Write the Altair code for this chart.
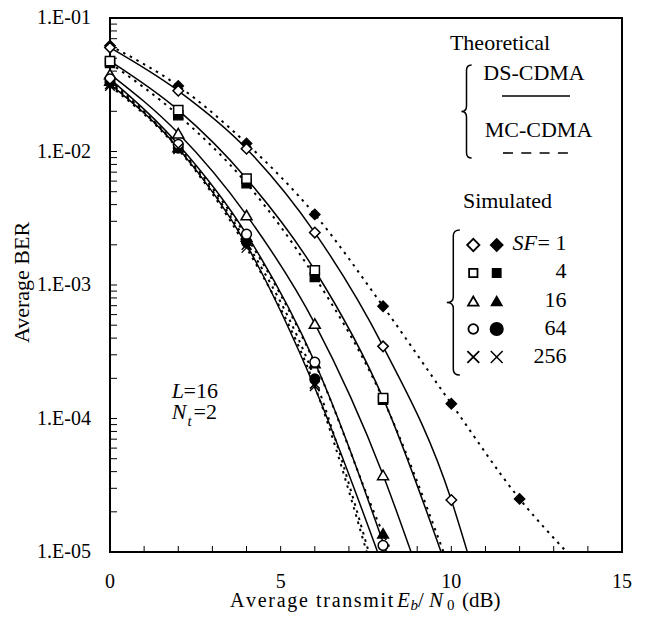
import altair as alt
import pandas as pd

SERIF = "Liberation Serif"
W, H = 512, 534

# ------------------------------------------------------------------ data
SF_LABELS = ["1", "4", "16", "64", "256"]

# simulated DS-CDMA (open markers)
ds_x_sf1 = [0, 2, 4, 6, 8, 10]
ds_y_sf1 = [0.060, 0.0285, 0.0105, 0.00247, 3.47e-4, 2.45e-5]
ds_x_sf4 = [0, 2, 4, 6, 8]
ds_y_sf4 = [0.0475, 0.0204, 0.00626, 0.00129, 1.42e-4]
ds_x_sf16 = [0, 2, 4, 6, 8]
ds_y_sf16 = [0.038, 0.0137, 0.00334, 5.14e-4, 3.78e-5]
ds_x_sf64 = [0, 2, 4, 6, 8]
ds_y_sf64 = [0.035, 0.0113, 0.0024, 2.64e-4, 1.12e-5]
ds_x_sf256 = [0, 2, 4, 6]
ds_y_sf256 = [0.032, 0.0106, 0.0020, 1.82e-4]

# simulated MC-CDMA (filled markers)
mc_x_sf1 = [0, 2, 4, 6, 8, 10, 12]
mc_y_sf1 = [0.062, 0.0310, 0.0115, 0.00338, 6.93e-4, 1.29e-4, 2.5e-5]
mc_x_sf4 = [0, 2, 4, 6, 8]
mc_y_sf4 = [0.046, 0.0187, 0.00578, 0.00115, 1.38e-4]
mc_x_sf16 = [0, 2, 4, 6, 8]
mc_y_sf16 = [0.034, 0.0108, 0.0023, 2.6e-4, 1.38e-5]
mc_x_sf64 = [0, 2, 4, 6]
mc_y_sf64 = [0.033, 0.0106, 0.00209, 1.98e-4]
mc_x_sf256 = [0, 2, 4, 6]
mc_y_sf256 = [0.031, 0.0104, 0.0019, 1.75e-4]

# theoretical DS-CDMA (solid)
th_ds_x_sf1 = [0, 2, 4, 6, 8, 10, 10.47]
th_ds_y_sf1 = [0.060, 0.0285, 0.0105, 0.00247, 3.47e-4, 2.45e-5, 1e-5]
th_ds_x_sf4 = [0, 2, 4, 6, 8, 9.70]
th_ds_y_sf4 = [0.0475, 0.0204, 0.00626, 0.00129, 1.42e-4, 1e-5]
th_ds_x_sf16 = [0, 2, 4, 6, 8, 8.82]
th_ds_y_sf16 = [0.038, 0.0137, 0.00334, 5.14e-4, 3.78e-5, 1e-5]
th_ds_x_sf64 = [0, 2, 4, 6, 8.10]
th_ds_y_sf64 = [0.035, 0.0113, 0.0024, 2.64e-4, 1e-5]
th_ds_x_sf256 = [0, 2, 4, 6, 7.84]
th_ds_y_sf256 = [0.032, 0.0106, 0.0020, 1.70e-4, 1e-5]

# theoretical MC-CDMA (dashed)
th_mc_x_sf1 = [0, 2, 4, 6, 8, 10, 12, 13.38]
th_mc_y_sf1 = [0.062, 0.0310, 0.0115, 0.00338, 6.93e-4, 1.29e-4, 2.5e-5, 1e-5]
th_mc_x_sf4 = [0, 2, 4, 6, 8, 9.77]
th_mc_y_sf4 = [0.046, 0.0187, 0.00578, 0.00115, 1.40e-4, 1e-5]
th_mc_x_sf16 = [0, 2, 4, 6, 8, 8.25]
th_mc_y_sf16 = [0.034, 0.0108, 0.0023, 2.6e-4, 1.38e-5, 1e-5]
th_mc_x_sf64 = [0, 2, 4, 6, 7.58]
th_mc_y_sf64 = [0.033, 0.0106, 0.00209, 1.98e-4, 1e-5]
th_mc_x_sf256 = [0, 2, 4, 6, 7.52]
th_mc_y_sf256 = [0.031, 0.0104, 0.0019, 1.75e-4, 1e-5]

x_tick_values = [0, 5, 10, 15]
x_tick_labels = ["0", "5", "10", "15"]
y_tick_values = [1e-5, 1e-4, 1e-3, 1e-2, 1e-1]
y_tick_labels = ["1.E-05", "1.E-04", "1.E-03", "1.E-02", "1.E-01"]

# ------------------------------------------------------------------ helpers
def frame(xs, ys, sf):
    return pd.DataFrame({"snr": xs, "ber": ys, "sf": sf})

ds_sim = [frame(ds_x_sf1, ds_y_sf1, "1"), frame(ds_x_sf4, ds_y_sf4, "4"),
          frame(ds_x_sf16, ds_y_sf16, "16"), frame(ds_x_sf64, ds_y_sf64, "64"),
          frame(ds_x_sf256, ds_y_sf256, "256")]
mc_sim = [frame(mc_x_sf1, mc_y_sf1, "1"), frame(mc_x_sf4, mc_y_sf4, "4"),
          frame(mc_x_sf16, mc_y_sf16, "16"), frame(mc_x_sf64, mc_y_sf64, "64"),
          frame(mc_x_sf256, mc_y_sf256, "256")]
th_ds = pd.concat([frame(th_ds_x_sf1, th_ds_y_sf1, "1"), frame(th_ds_x_sf4, th_ds_y_sf4, "4"),
                   frame(th_ds_x_sf16, th_ds_y_sf16, "16"), frame(th_ds_x_sf64, th_ds_y_sf64, "64"),
                   frame(th_ds_x_sf256, th_ds_y_sf256, "256")])
th_mc = pd.concat([frame(th_mc_x_sf1, th_mc_y_sf1, "1"), frame(th_mc_x_sf4, th_mc_y_sf4, "4"),
                   frame(th_mc_x_sf16, th_mc_y_sf16, "16"), frame(th_mc_x_sf64, th_mc_y_sf64, "64"),
                   frame(th_mc_x_sf256, th_mc_y_sf256, "256")])

X_PATH = "M-1,-1L1,1M1,-1L-1,1"
SHAPES = ["diamond", "square", "triangle-up", "circle", X_PATH]
SIZES = [110, 85, 121, 95, 95]
LEG_OPEN_SIZES = [150, 70, 110, 95, 140]
LEG_FILL_SIZES = [150, 70, 110, 160, 140]

xscale = alt.Scale(domain=[0, 15], nice=False, zero=False)
yscale = alt.Scale(type="log", domain=[1e-5, 1e-1], nice=False)

one = pd.DataFrame({"k": [0]})


def X(field="snr"):
    return alt.X(f"{field}:Q", scale=xscale, axis=None)


def Y(field="ber"):
    return alt.Y(f"{field}:Q", scale=yscale, axis=None)


def txt(s, x, y, size=22, style="normal", align="left", baseline="alphabetic", angle=0):
    return alt.Chart(one).mark_text(
        text=s, font=SERIF, fontSize=size, fontStyle=style, align=align,
        baseline=baseline, angle=angle, color="black"
    ).encode(x=alt.value(x), y=alt.value(y))


# ------------------------------------------------------------------ layers
layers = []

layers.append(
    alt.Chart(th_ds).mark_line(interpolate="monotone", color="black", strokeWidth=1.5)
    .encode(x=X(), y=Y(), detail="sf:N")
)
layers.append(
    alt.Chart(th_mc).mark_line(interpolate="monotone", color="black", strokeWidth=2,
                               strokeDash=[2.5, 5])
    .encode(x=X(), y=Y(), detail="sf:N")
)

# inward ticks
y_minor = [m * 10.0 ** e for e in range(-5, -1) for m in range(1, 10)] + [0.1]
layers.append(
    alt.Chart(pd.DataFrame({"v": y_minor})).mark_rule(color="black", strokeWidth=1)
    .encode(y=Y("v"), x=alt.value(0), x2=alt.value(7))
)
layers.append(
    alt.Chart(pd.DataFrame({"v": list(range(1, 15))})).mark_rule(color="black", strokeWidth=1)
    .encode(x=X("v"), y=alt.value(H), y2=alt.value(H - 6))
)

# tick labels
layers.append(
    alt.Chart(pd.DataFrame({"v": y_tick_values, "lab": y_tick_labels}))
    .mark_text(font=SERIF, fontSize=20, align="right", baseline="middle", color="black")
    .encode(y=Y("v"), x=alt.value(-19), text="lab:N")
)
layers.append(
    alt.Chart(pd.DataFrame({"v": x_tick_values, "lab": x_tick_labels}))
    .mark_text(font=SERIF, fontSize=20, align="center", baseline="alphabetic", color="black")
    .encode(x=X("v"), y=alt.value(H + 36), text="lab:N")
)

# filled (MC-CDMA) then open (DS-CDMA) markers
for i, df in enumerate(mc_sim):
    layers.append(
        alt.Chart(df).mark_point(shape=SHAPES[i], size=SIZES[i], filled=True, fill="black",
                                 stroke="black", strokeWidth=1.3, opacity=1)
        .encode(x=X(), y=Y())
    )
for i, df in enumerate(ds_sim):
    layers.append(
        alt.Chart(df).mark_point(shape=SHAPES[i], size=SIZES[i], filled=True, fill="white",
                                 stroke="black", strokeWidth=1.5, opacity=1)
        .encode(x=X(), y=Y())
    )

# ------------------------------------------------------------------ legend (drawn)
BRACE1 = "M0.11,-1 Q0,-1 0,-0.88 L0,-0.12 Q0,0 -0.11,0 Q0,0 0,0.12 L0,0.88 Q0,1 0.11,1"
BRACE2 = "M0.09,-1 Q0,-1 0,-0.92 L0,-0.08 Q0,0 -0.09,0 Q0,0 0,0.08 L0,0.92 Q0,1 0.09,1"

layers.append(txt("Theoretical", 390, 32, align="center"))
layers.append(
    alt.Chart(one).mark_point(shape=BRACE1, size=93 ** 2, filled=False, color="black",
                              strokeWidth=1.5, opacity=1)
    .encode(x=alt.value(356.5), y=alt.value(93.5))
)
layers.append(txt("DS-CDMA", 424, 62, align="center"))
layers.append(
    alt.Chart(one).mark_rule(color="black", strokeWidth=1.6)
    .encode(x=alt.value(392), x2=alt.value(460), y=alt.value(78))
)
layers.append(txt("MC-CDMA", 428.5, 118.7, align="center"))
layers.append(
    alt.Chart(one).mark_rule(color="black", strokeWidth=1.6, strokeDash=[10, 8.3])
    .encode(x=alt.value(393), x2=alt.value(462), y=alt.value(135))
)
layers.append(txt("Simulated", 397.5, 190, align="center"))
layers.append(
    alt.Chart(one).mark_point(shape=BRACE2, size=145 ** 2, filled=False, color="black",
                              strokeWidth=1.5, opacity=1)
    .encode(x=alt.value(343.3), y=alt.value(284.5))
)
for i, lab in enumerate(SF_LABELS):
    yc = 227 + 28.0 * i
    layers.append(
        alt.Chart(one).mark_point(shape=SHAPES[i], size=LEG_OPEN_SIZES[i], filled=True,
                                  fill="white", stroke="black", strokeWidth=1.8, opacity=1)
        .encode(x=alt.value(363.3), y=alt.value(yc))
    )
    layers.append(
        alt.Chart(one).mark_point(shape=SHAPES[i], size=LEG_FILL_SIZES[i], filled=True,
                                  fill="black", stroke="black", strokeWidth=1.5, opacity=1)
        .encode(x=alt.value(386.7), y=alt.value(yc))
    )
    layers.append(txt(("= " if i == 0 else "") + lab, 456.5, 232 + 28.3 * i, align="right"))
layers.append(txt("SF", 427, 232, style="italic", align="right"))

# in-plot annotation
layers.append(txt("L", 61.7, 380.3, style="italic"))
layers.append(txt("=16", 73.5, 380.3))
layers.append(txt("N", 61.7, 401, style="italic"))
layers.append(txt("t", 77.5, 407.5, size=15, style="italic"))
layers.append(txt("=2", 83.5, 401))

# axis titles
layers.append(txt("Average BER", -81, 264.5, angle=270, align="center"))
layers.append(txt("\u200a".join("Average transmit"), 120, 589, size=20))
layers.append(txt("E", 287, 589, size=21, style="italic"))
layers.append(txt("b", 300.5, 592, size=15, style="italic"))
layers.append(txt("/", 308, 589, size=21))
layers.append(txt("N", 319, 589, size=21, style="italic"))
layers.append(txt("0", 337, 592, size=15))
layers.append(txt("(dB)", 352, 589, size=21))

chart = (
    alt.layer(*layers)
    .properties(width=W, height=H,
                autosize=alt.AutoSizeParams(type="none"),
                padding={"left": 102, "top": 10, "right": 12, "bottom": 62},
                background="white")
    .configure_view(stroke="black", strokeWidth=2)
)

chart.save("out.html", embed_options={"renderer": "svg", "actions": False})
